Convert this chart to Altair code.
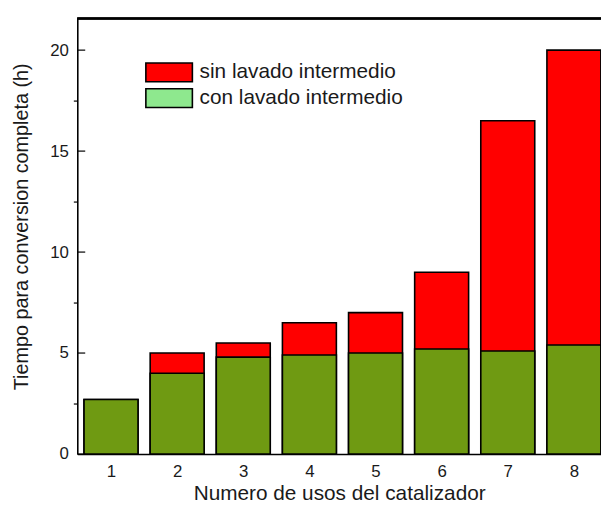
import altair as alt
import pandas as pd

usos = [1, 2, 3, 4, 5, 6, 7, 8]
sin_lavado = [2.7, 5.0, 5.5, 6.5, 7.0, 9.0, 16.5, 20.0]
con_lavado = [2.7, 4.0, 4.8, 4.9, 5.0, 5.2, 5.1, 5.4]
series = ["sin lavado intermedio", "con lavado intermedio"]
y_major = [0, 5, 10, 15, 20]
y_all = [0, 2.5, 5, 7.5, 10, 12.5, 15, 17.5, 20]

df = pd.DataFrame({"uso": usos, "sin": sin_lavado, "con": con_lavado})
leg = pd.DataFrame({"serie": series})
ticks_df = pd.DataFrame({"v": y_major})

W = 529
H = 440
HALF = 0.408
FONT = "Liberation Sans"
TXT = "#1a1a1a"

xscale = alt.Scale(domain=[0.49, 8.41], nice=False, zero=False)
yscale = alt.Scale(domain=[0, 21.57], nice=False, zero=False)

base = alt.Chart(df).transform_calculate(
    x0=f"datum.uso - {HALF}", x1=f"datum.uso + {HALF}", cero="0"
)

xaxis = alt.Axis(
    values=usos, format="d", title="Numero de usos del catalizador", grid=False,
    tickSize=0, labelPadding=10, labelFontSize=17, labelFont=FONT, labelColor=TXT,
    titleFontSize=21, titleFont=FONT, titleFontWeight="normal", titleColor=TXT,
    titleBaseline="alphabetic", titleY=46,
    domainColor="black", domainWidth=1.6,
)
yaxis = alt.Axis(
    values=y_all, title="Tiempo para conversion completa (h)", grid=False,
    labelExpr="datum.value % 5 == 0 ? datum.label : ''",
    tickSize=4, tickWidth=1.2,
    tickColor={"condition": {"test": "datum.value % 5 != 0", "value": "black"}, "value": "transparent"},
    labelPadding=5, labelFontSize=17, labelFont=FONT, labelColor=TXT,
    titleFontSize=20, titleFont=FONT, titleFontWeight="normal", titleColor=TXT,
    titleBaseline="middle", titleX=-56, titleY=210,
    domainColor="black", domainWidth=1.6,
)

red = base.mark_rect(fill="#ff0000", stroke="black", strokeWidth=1.6).encode(
    x=alt.X("x0:Q", scale=xscale, axis=xaxis),
    x2="x1:Q",
    y=alt.Y("sin:Q", scale=yscale, axis=yaxis),
    y2="cero:Q",
)

green = base.mark_rect(fill="#6f9a12", stroke="black", strokeWidth=1.6).encode(
    x=alt.X("x0:Q", scale=xscale),
    x2="x1:Q",
    y=alt.Y("con:Q", scale=yscale),
    y2="cero:Q",
)

inner_ticks = alt.Chart(ticks_df).mark_rule(color="black", strokeWidth=1.2).encode(
    x=alt.value(0), x2=alt.value(8),
    y=alt.Y("v:Q", scale=yscale),
)

top_line = alt.Chart(df).mark_rule(color="black", strokeWidth=1.6).encode(
    y=alt.value(0)
)

legend_layer = alt.Chart(leg).mark_point(opacity=0, filled=True).encode(
    color=alt.Color("serie:N", scale=alt.Scale(domain=series, range=["#ff0000", "#8ee88e"]),
                    legend=alt.Legend(
                        orient="none", legendX=79.75, legendY=41.5, title=None,
                        symbolType="M-2,-0.8H2V0.8H-2Z", symbolSize=552,
                        symbolStrokeColor="black", symbolStrokeWidth=1.6, symbolOpacity=1,
                        labelFontSize=21, labelFont=FONT, labelColor=TXT, labelLimit=0,
                        labelOffset=17.75, rowPadding=0, padding=0,
                    )),
)

chart = alt.layer(red, green, top_line, inner_ticks, legend_layer).properties(
    width=W, height=H,
    autosize=alt.AutoSizeParams(type="none"),
    padding={"left": 70, "top": 8, "right": 0, "bottom": 52},
).configure_view(stroke="transparent")

chart.save("out.html", embed_options={"renderer": "svg", "actions": False})
